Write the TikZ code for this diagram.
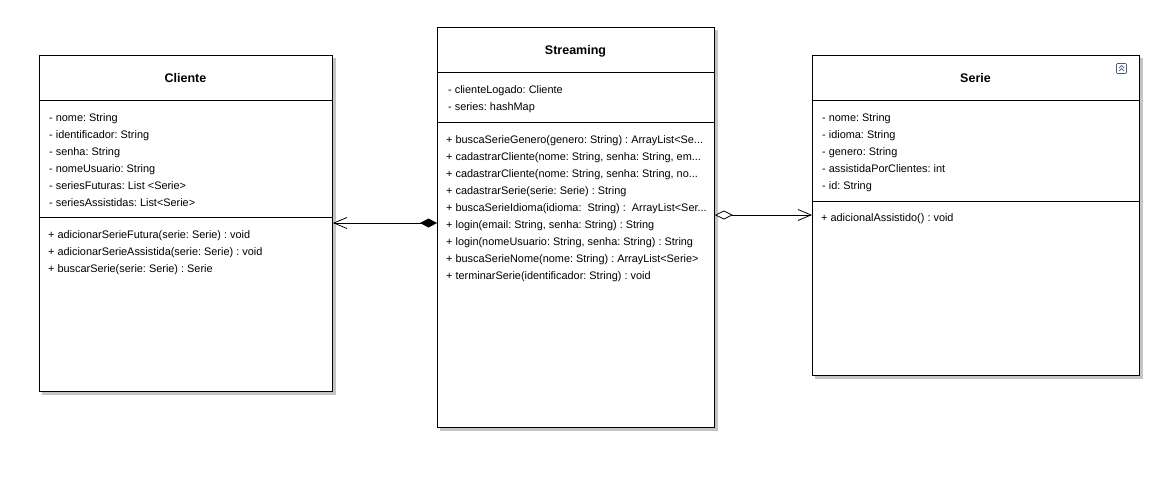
\documentclass[tikz,border=0pt]{standalone}
\usepackage{fontspec}
\setmainfont{Liberation Sans}
\usetikzlibrary{arrows.meta}
\definecolor{shadowgray}{RGB}{196,196,196}
\definecolor{iconblue}{RGB}{70,90,130}
\tikzset{
  classbox/.style={draw=black, line width=0.9pt, fill=white, anchor=north west, inner sep=0pt},
  member/.style={anchor=base west, inner sep=0pt, font=\fontsize{10.9}{12}\selectfont\frenchspacing},
  title/.style={anchor=base, inner sep=0pt, font=\fontsize{12.5}{14}\selectfont\bfseries},
  sepline/.style={line width=0.8pt},
  conn/.style={line width=0.8pt},
}
\begin{document}
\begin{tikzpicture}[x=1pt,y=-1pt]
\useasboundingbox (0,0) rectangle (1160,483);
\fill[white] (0,0) rectangle (1160,483);
% shadows
\fill[shadowgray] (42,58) rectangle (336,395);
\fill[shadowgray] (440,30) rectangle (718,431);
\fill[shadowgray] (815,58) rectangle (1143,379);
% boxes
\node[classbox, minimum width=293pt, minimum height=336pt] (cliente) at (39,55) {};
\node[classbox, minimum width=277pt, minimum height=400pt] (streaming) at (437,27) {};
\node[classbox, minimum width=327pt, minimum height=320pt] (serie) at (812,55) {};
% separators
\draw[sepline] (cliente.west |- 0,100) -- (cliente.east |- 0,100);
\draw[sepline] (cliente.west |- 0,217) -- (cliente.east |- 0,217);
\draw[sepline] (streaming.west |- 0,72) -- (streaming.east |- 0,72);
\draw[sepline] (streaming.west |- 0,122) -- (streaming.east |- 0,122);
\draw[sepline] (serie.west |- 0,100) -- (serie.east |- 0,100);
\draw[sepline] (serie.west |- 0,201) -- (serie.east |- 0,201);
% titles
\node[title] (tcli) at (185.5,82.5) {Cliente};
\node[title] (tstr) at (575.5,54.5) {Streaming};
\node[title] (tser) at (975.5,82.5) {Serie};
% icon
\node[draw=iconblue, line width=0.6pt, rounded corners=1pt, minimum width=10pt, minimum height=10pt, inner sep=0pt] (icon) at (1121.5,68.5) {};
\draw[iconblue, line width=0.7pt] ([xshift=-2.5pt,yshift=0.5pt]icon.center) -- ([yshift=3pt]icon.center) -- ([xshift=2.5pt,yshift=0.5pt]icon.center);
\draw[iconblue, line width=0.7pt] ([xshift=-2.5pt,yshift=-2.5pt]icon.center) -- ([yshift=0pt]icon.center) -- ([xshift=2.5pt,yshift=-2.5pt]icon.center);
% Cliente members
\foreach \t [count=\i] in {- nome: String, - identificador: String, - senha: String, - nomeUsuario: String, - seriesFuturas: List <Serie>, - seriesAssistidas: List<Serie>}
  \node[member] (ca\i) at (49, {121.5+17*(\i-1)}) {\t};
\foreach \t [count=\i] in {+ adicionarSerieFutura(serie: Serie) : void, + adicionarSerieAssistida(serie: Serie) : void, + buscarSerie(serie: Serie) : Serie}
  \node[member] (cm\i) at (48, {238.5+17*(\i-1)}) {\t};
% Streaming members
\foreach \t [count=\i] in {- clienteLogado: Cliente, - series: hashMap}
  \node[member] (sa\i) at (448, {93.5+17*(\i-1)}) {\t};
\node[member] (sm1) at (446, 143) {+ buscaSerieGenero(genero: String) : ArrayList<Se...};
\node[member] (sm2) at (446, 160) {+ cadastrarCliente(nome: String, senha: String, em...};
\node[member] (sm3) at (446, 177) {+ cadastrarCliente(nome: String, senha: String, no...};
\node[member] (sm4) at (446, 194) {+ cadastrarSerie(serie: Serie) : String};
\node[member] (sm5) at (446, 211) {+ buscaSerieIdioma(idioma:\ \ String) :\ \ ArrayList<Ser...};
\node[member] (sm6) at (446, 228) {+ login(email: String, senha: String) : String};
\node[member] (sm7) at (446, 245) {+ login(nomeUsuario: String, senha: String) : String};
\node[member] (sm8) at (446, 262) {+ buscaSerieNome(nome: String) : ArrayList<Serie>};
\node[member] (sm9) at (446, 279) {+ terminarSerie(identificador: String) : void};
% Serie members
\foreach \t [count=\i] in {- nome: String, - idioma: String, - genero: String, - assistidaPorClientes: int, - id: String}
  \node[member] (ra\i) at (822, {121.5+17*(\i-1)}) {\t};
\node[member] (rm1) at (821, 221.5) {+ adicionalAssistido() : void};
% connectors
\coordinate (c1) at (cliente.east |- 0,223);
\coordinate (s1) at (streaming.west |- 0,223);
\coordinate (s2) at (streaming.east |- 0,215);
\coordinate (r1) at (serie.west |- 0,215);
\draw[conn, {Diamond[length=17pt,width=9pt,fill=black]}-{Straight Barb[length=13pt,width=11pt,line width=0.8pt]}] (s1) -- (c1);
\draw[conn, {Diamond[length=18pt,width=9pt,open,fill=white]}-{Straight Barb[length=13pt,width=11pt,line width=0.8pt]}] (s2) -- (r1);
\end{tikzpicture}
\end{document}
